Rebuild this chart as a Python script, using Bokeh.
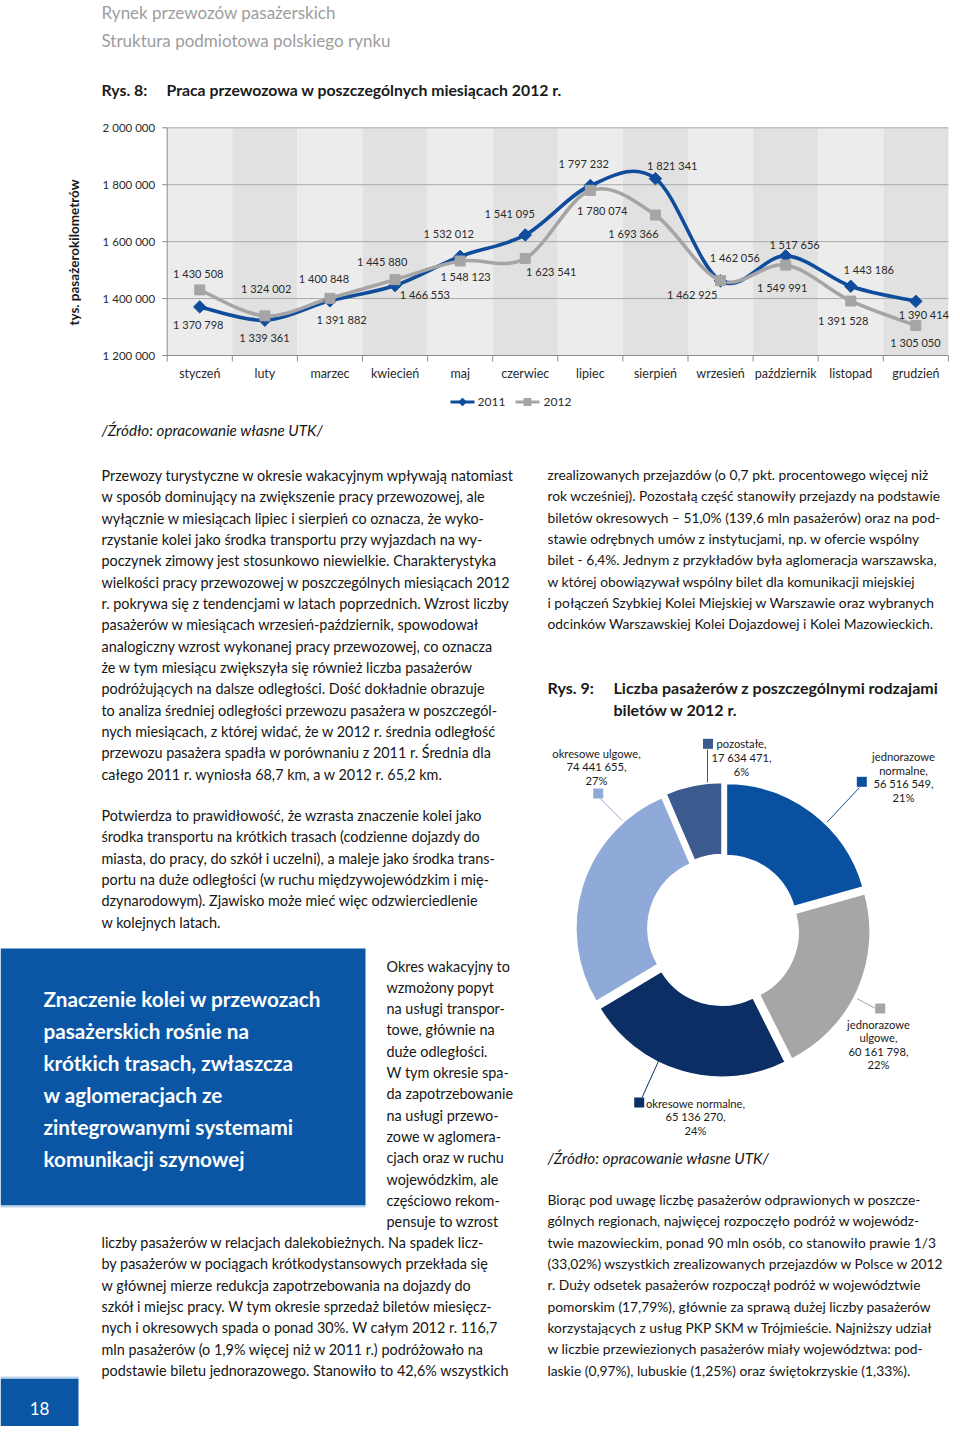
import numpy as np
from bokeh.plotting import figure
from bokeh.models import Range1d
from bokeh.core.properties import value
from bokeh.embed import file_html
from bokeh.resources import INLINE

# ---------------- data: Rys. 8 ----------------
months = ["styczeń", "luty", "marzec", "kwiecień", "maj", "czerwiec", "lipiec",
          "sierpień", "wrzesień", "październik", "listopad", "grudzień"]
v2011 = [1370798, 1324002, 1391882, 1445880, 1548123, 1623541, 1797232,
         1821341, 1462056, 1549991, 1443186, 1390414]
v2012 = [1430508, 1339361, 1400848, 1466553, 1532012, 1541095, 1780074,
         1693366, 1462925, 1517656, 1391528, 1305050]
labels_upper = ["1 430 508", "1 324 002", "1 400 848", "1 445 880", "1 532 012", "1 541 095",
                "1 797 232", "1 821 341", "1 462 056", "1 517 656", "1 443 186", "1 390 414"]
labels_lower = ["1 370 798", "1 339 361", "1 391 882", "1 466 553", "1 548 123", "1 623 541",
                "1 780 074", "1 693 366", "1 462 925", "1 549 991", "1 391 528", "1 305 050"]
y_ticks = [1200000, 1400000, 1600000, 1800000, 2000000]
y_tick_labels = [f"{t:,}".replace(",", " ") for t in y_ticks]
series_names = ["2011", "2012"]
y_title = "tys. pasażerokilometrów"

# ---------------- data: Rys. 9 ----------------
ticket_types = ["jednorazowe normalne", "jednorazowe ulgowe", "okresowe normalne",
                "okresowe ulgowe", "pozostałe"]
ticket_counts = [56516549, 60161798, 65136270, 74441655, 17634471]
ticket_shares = ["21%", "22%", "24%", "27%", "6%"]
ticket_wrap = [True, True, False, False, False]

# ---------------- page texts ----------------
header1 = "Rynek przewozów pasażerskich"
header2 = "Struktura podmiotowa polskiego rynku"
fig8_no, fig8_title = "Rys. 8:", "Praca przewozowa w poszczególnych miesiącach 2012 r."
fig9_no = "Rys. 9:"
fig9_title = ["Liczba pasażerów z poszczególnymi rodzajami", "biletów w 2012 r."]
source = "/Źródło: opracowanie własne UTK/"

par_a = [
    "Przewozy turystyczne w okresie wakacyjnym wpływają natomiast",
    "w sposób dominujący na zwiększenie pracy przewozowej, ale",
    "wyłącznie w miesiącach lipiec i sierpień co oznacza, że wyko-",
    "rzystanie kolei jako środka transportu przy wyjazdach na wy-",
    "poczynek zimowy jest stosunkowo niewielkie. Charakterystyka",
    "wielkości pracy przewozowej w poszczególnych miesiącach 2012",
    "r. pokrywa się z tendencjami w latach poprzednich. Wzrost liczby",
    "pasażerów w miesiącach wrzesień-październik, spowodował",
    "analogiczny wzrost wykonanej pracy przewozowej, co oznacza",
    "że w tym miesiącu zwiększyła się również liczba pasażerów",
    "podróżujących na dalsze odległości. Dość dokładnie obrazuje",
    "to analiza średniej odległości przewozu pasażera w poszczegól-",
    "nych miesiącach, z której widać, że w 2012 r. średnia odległość",
    "przewozu pasażera spadła w porównaniu z 2011 r. Średnia dla",
    "całego 2011 r. wyniosła 68,7 km, a w 2012 r. 65,2 km.",
]
par_b = [
    "Potwierdza to prawidłowość, że wzrasta znaczenie kolei jako",
    "środka transportu na krótkich trasach (codzienne dojazdy do",
    "miasta, do pracy, do szkół i uczelni), a maleje jako środka trans-",
    "portu na duże odległości (w ruchu międzywojewódzkim i mię-",
    "dzynarodowym). Zjawisko może mieć więc odzwierciedlenie",
    "w kolejnych latach.",
]
par_c = [
    "Okres wakacyjny to", "wzmożony popyt", "na usługi transpor-", "towe, głównie na",
    "duże odległości.", "W tym okresie spa-", "da zapotrzebowanie", "na usługi przewo-",
    "zowe w aglomera-", "cjach oraz w ruchu", "wojewódzkim, ale", "częściowo rekom-",
    "pensuje to wzrost",
]
par_d = [
    "liczby pasażerów w relacjach dalekobieżnych. Na spadek licz-",
    "by pasażerów w pociągach krótkodystansowych przekłada się",
    "w głównej mierze redukcja zapotrzebowania na dojazdy do",
    "szkół i miejsc pracy. W tym okresie sprzedaż biletów miesięcz-",
    "nych i okresowych spada o ponad 30%. W całym 2012 r. 116,7",
    "mln pasażerów (o 1,9% więcej niż w 2011 r.) podróżowało na",
    "podstawie biletu jednorazowego. Stanowiło to 42,6% wszystkich",
]
par_e = [
    "zrealizowanych przejazdów (o 0,7 pkt. procentowego więcej niż",
    "rok wcześniej). Pozostałą część stanowiły przejazdy na podstawie",
    "biletów okresowych – 51,0% (139,6 mln pasażerów) oraz na pod-",
    "stawie odrębnych umów z instytucjami, np. w ofercie wspólny",
    "bilet - 6,4%. Jednym z przykładów była aglomeracja warszawska,",
    "w której obowiązywał wspólny bilet dla komunikacji miejskiej",
    "i połączeń Szybkiej Kolei Miejskiej w Warszawie oraz wybranych",
    "odcinków Warszawskiej Kolei Dojazdowej i Kolei Mazowieckich.",
]
par_f = [
    "Biorąc pod uwagę liczbę pasażerów odprawionych w poszcze-",
    "gólnych regionach, najwięcej rozpoczęło podróż w wojewódz-",
    "twie mazowieckim, ponad 90 mln osób, co stanowiło prawie 1/3",
    "(33,02%) wszystkich zrealizowanych przejazdów w Polsce w 2012",
    "r. Duży odsetek pasażerów rozpoczął podróż w województwie",
    "pomorskim (17,79%), głównie za sprawą dużej liczby pasażerów",
    "korzystających z usług PKP SKM w Trójmieście. Najniższy udział",
    "w liczbie przewiezionych pasażerów miały województwa: pod-",
    "laskie (0,97%), lubuskie (1,25%) oraz świętokrzyskie (1,33%).",
]
box_text = ["Znaczenie kolei w przewozach", "pasażerskich rośnie na",
            "krótkich trasach, zwłaszcza", "w aglomeracjach ze",
            "zintegrowanymi systemami", "komunikacji szynowej"]
page_no = "18"

# ---------------- styles ----------------
FONT = value("Lato")
TXT = "#161616"
BLUE = "#0f4d9c"
GREY = "#a5a5a5"
BOX = "#0a56a5"
slice_colors = ["#0a50a0", "#a6a6a6", "#0b2f64", "#8faad8", "#3b5a8d"]
BODY = "14.4px"
BODY_R = "13.8px"

W, H = 952, 1426
p = figure(width=W, height=H, x_range=Range1d(0, W), y_range=Range1d(H, 0),
           min_border=0, toolbar_location=None, output_backend="svg")
p.axis.visible = False
p.grid.visible = False
p.outline_line_color = None
p.background_fill_color = "white"


def block(x, y0, lines, size=BODY, lh=21.33, color=TXT, style="normal", align="left"):
    ys = [y0 + k * lh for k in range(len(lines))]
    p.text(x=[x] * len(lines), y=ys, text=lines, text_font=FONT, text_font_size=size,
           text_color=color, text_font_style=style, text_align=align, text_baseline="middle")


# ---------------- header ----------------
block(101, 12, [header1], size="17px", color="#9d9d9d")
block(101, 40, [header2], size="17px", color="#9d9d9d")
block(101, 89, [fig8_no], size="15.8px", style="bold", color="#1a1a1a")
block(166, 89, [fig8_title], size="15.8px", style="bold", color="#1a1a1a")

# ---------------- line chart (own scales) ----------------
BAND_L, BAND_W = 166.7, 65.1
Y_TOP, Y_BOT = 127.3, 355.0
vmin, vmax = min(y_ticks), max(y_ticks)
vpp = (vmax - vmin) / (Y_BOT - Y_TOP)
p.extra_x_ranges = {"m": Range1d((0 - BAND_L) / BAND_W - 0.5, (W - BAND_L) / BAND_W - 0.5)}
p.extra_y_ranges = {"v": Range1d(vmin - (H - Y_BOT) * vpp, vmax + (Y_TOP - 0) * vpp)}
R = dict(x_range_name="m", y_range_name="v")

idx = np.arange(len(months))
band_colors = ["#ececec" if i % 2 == 0 else "#e1e1e1" for i in idx]
p.quad(left=idx - 0.5, right=idx + 0.5, bottom=vmin, top=vmax,
       fill_color=band_colors, line_color=None, **R)
grid_vals = y_ticks[1:]
p.segment(x0=[-0.5] * len(grid_vals), x1=[len(months) - 0.5] * len(grid_vals),
          y0=grid_vals, y1=grid_vals, line_color="#a9a9a9", line_width=1, **R)
# axes
p.segment(x0=[-0.5], x1=[len(months) - 0.5], y0=[vmin], y1=[vmin], line_color="#8c8c8c", line_width=1, **R)
p.segment(x0=[-0.5], x1=[-0.5], y0=[vmin], y1=[vmax], line_color="#8c8c8c", line_width=1, **R)
p.segment(x0=[-0.5] * len(y_ticks), x1=[-0.5 - 5 / BAND_W] * len(y_ticks),
          y0=y_ticks, y1=y_ticks, line_color="#8c8c8c", line_width=1, **R)
edges = np.arange(len(months) + 1) - 0.5
p.segment(x0=edges, x1=edges, y0=[vmin] * len(edges), y1=[vmin - 6 * vpp] * len(edges),
          line_color="#8c8c8c", line_width=1, **R)
p.text(x=[-0.5] * len(y_ticks), y=y_ticks, text=y_tick_labels, x_offset=-12,
       text_align="right", text_baseline="middle", text_font=FONT, text_font_size="11.5px",
       text_color="#2a2a2a", **R)
p.text(x=idx, y=[vmin] * len(months), text=months, y_offset=18, text_align="center",
       text_baseline="middle", text_font=FONT, text_font_size="12.5px", text_color="#2a2a2a", **R)
p.text(x=[73], y=[252], text=[y_title], angle=np.pi / 2, text_align="center",
       text_baseline="middle", text_font=FONT, text_font_size="13.5px", text_font_style="bold",
       text_color="#1a1a1a")


def smooth(vals):
    P = np.column_stack([np.arange(len(vals), dtype=float), np.asarray(vals, dtype=float)])
    Pm = np.vstack([P[0], P, P[-1]])
    c0 = P[:-1] + (Pm[2:-1] - Pm[0:-3]) / 6.0
    c1 = P[1:] - (Pm[3:] - Pm[1:-2]) / 6.0
    return dict(x0=P[:-1, 0], y0=P[:-1, 1], x1=P[1:, 0], y1=P[1:, 1],
                cx0=c0[:, 0], cy0=c0[:, 1], cx1=c1[:, 0], cy1=c1[:, 1])


p.bezier(**smooth(v2011), line_color=BLUE, line_width=3.6, line_cap="round", **R)
p.bezier(**smooth(v2012), line_color=GREY, line_width=3.6, line_cap="round", **R)
p.scatter(x=idx, y=v2011, marker="square", angle=np.pi / 4, size=8.8,
          fill_color=BLUE, line_color=BLUE, **R)
p.scatter(x=idx, y=v2012, marker="square", size=10, fill_color=GREY, line_color=GREY, **R)

up_v = np.maximum(v2011, v2012)
lo_v = np.minimum(v2011, v2012)
dx_up = [-1.5, 1.3, -6, -12.9, -11.4, -15.5, -6.6, 16.8, 14.3, 8.9, 18, 8]
dy_up = [-16.7, -27, -19.5, -18.4, -23.2, -21.2, -22.3, -13.2, -22.9, -11.1, -16.8, 13.2]
dx_lo = [-1.5, -0.4, 11.6, 29.8, 5.4, 26, 11.9, -22, -28.4, -3.5, -7.6, -0.4]
dy_lo = [17.9, 17, 18.6, 9, 15.5, 12.8, 20.1, 18.1, 13.6, 22.1, 19.5, 17.2]
for vv, lab, dx, dy in [(up_v, labels_upper, dx_up, dy_up), (lo_v, labels_lower, dx_lo, dy_lo)]:
    p.text(x=idx, y=vv, text=lab, x_offset=dx, y_offset=dy, text_align="center",
           text_baseline="middle", text_font=FONT, text_font_size="11px", text_color="#2a2a2a", **R)

# legend
p.segment(x0=[450, 515], x1=[474, 539], y0=[401.5, 401.5], y1=[401.5, 401.5],
          line_color=[BLUE, GREY], line_width=3)
p.scatter(x=[462], y=[401.5], marker="square", angle=np.pi / 4, size=5.5, fill_color=BLUE, line_color=BLUE)
p.scatter(x=[527], y=[401.5], marker="square", size=7, fill_color=GREY, line_color=GREY)
p.text(x=[477, 543], y=[401.5, 401.5], text=series_names, text_baseline="middle",
       text_font=FONT, text_font_size="12px", text_color="#2a2a2a")

block(101, 429, [source], size="15.2px", style="italic")

# ---------------- body text ----------------
block(101, 475, par_a)
block(101, 815, par_b)
block(386, 965.5, par_c)
block(101, 1242, par_d)
block(547, 474, par_e, size=BODY_R)
block(547, 1199, par_f, size=BODY_R)
block(547, 1157, [source], size="15.2px", style="italic")

# fig 9 caption
block(547, 687, [fig9_no], size="16px", style="bold", color="#1a1a1a")
block(613, 687, fig9_title, size="16px", lh=22, style="bold", color="#1a1a1a")

# ---------------- blue box ----------------
p.quad(left=[0], right=[365], top=[948], bottom=[1205], fill_color=BOX, line_color=None)
p.segment(x0=[0], x1=[365], y0=[1206], y1=[1206], line_color="#bcd4ec", line_width=2)
block(43, 998.5, box_text, size="20.7px", lh=32, style="bold", color="white")

# page number
p.quad(left=[0], right=[78], top=[1378], bottom=[1440], fill_color=BOX, line_color=None)
p.segment(x0=[0], x1=[78], y0=[1377], y1=[1377], line_color="#bcd4ec", line_width=2)
p.text(x=[39], y=[1408], text=[page_no], text_align="center", text_baseline="middle",
       text_font=FONT, text_font_size="17px", text_color="white")

# ---------------- donut ----------------
CX, CY, R_OUT, R_IN, EXPLODE = 722.6, 929.4, 142, 70, 5.5
counts = np.array(ticket_counts, dtype=float)
fr = counts / counts.sum()
a1 = np.cumsum(fr)
a0 = a1 - fr
mid = (a0 + a1) / 2
p.annular_wedge(x=CX + EXPLODE * np.sin(2 * np.pi * mid), y=CY - EXPLODE * np.cos(2 * np.pi * mid),
                inner_radius=R_IN, outer_radius=R_OUT,
                start_angle=np.pi / 2 - 2 * np.pi * a1, end_angle=np.pi / 2 - 2 * np.pi * a0,
                direction="anticlock", fill_color=slice_colors, line_color="white", line_width=1.5)

lab_pos = [(903, 756), (878, 1023.5), (695, 1102.7), (596, 752.7), (741, 743.3)]
sq_pos = [(861.3, 781.3), (879.7, 1008), (638.7, 1102), (597.7, 793), (707.5, 743.3)]
leaders = [((859, 787), (826.5, 821.7)), ((874.3, 1007.5), (856.7, 998.3)),
           ((641.7, 1096.7), (658.3, 1060)), ((600, 798.3), (621.7, 820)),
           ((707, 749), (707, 782))]
for k in range(len(ticket_types)):
    name_lines = ticket_types[k].split() if ticket_wrap[k] else [ticket_types[k]]
    name_lines[-1] = name_lines[-1] + ","
    lines = name_lines + [f"{ticket_counts[k]:,}".replace(",", " ") + ",", ticket_shares[k]]
    block(lab_pos[k][0], lab_pos[k][1], lines, size="11.2px", lh=13.6, color="#1a1a1a", align="center")
    (xa, ya), (xb, yb) = leaders[k]
    p.segment(x0=[xa], y0=[ya], x1=[xb], y1=[yb], line_color=slice_colors[k], line_width=1)
    p.rect(x=[sq_pos[k][0]], y=[sq_pos[k][1]], width=10, height=10,
           fill_color=slice_colors[k], line_color=None)

open("out.html", "w").write(file_html(p, INLINE))
